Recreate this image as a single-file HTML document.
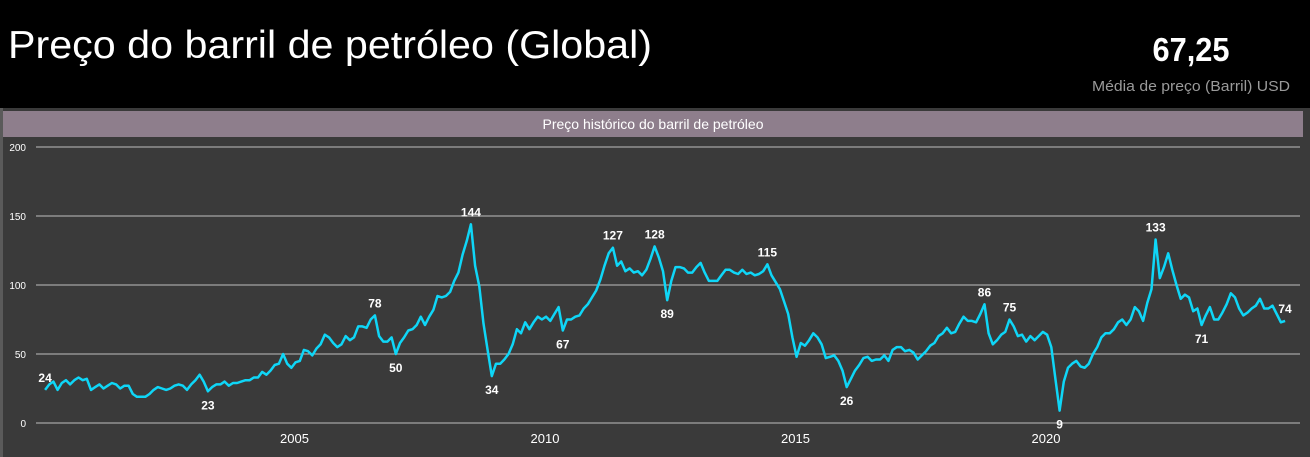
<!DOCTYPE html>
<html><head><meta charset="utf-8"><style>
html,body{margin:0;padding:0;background:#000;}
svg{display:block;font-family:"Liberation Sans","DejaVu Sans",sans-serif;}
</style></head><body>
<svg id="c" width="1310" height="457" viewBox="0 0 1310 457" xmlns="http://www.w3.org/2000/svg">
<rect x="0" y="0" width="1310" height="457" fill="#000"/>
<text x="8" y="58" font-size="39" fill="#fff" textLength="644" lengthAdjust="spacingAndGlyphs">Preço do barril de petróleo (Global)</text>
<text x="1191" y="61" font-size="33" font-weight="bold" fill="#fff" text-anchor="middle" textLength="77" lengthAdjust="spacingAndGlyphs">67,25</text>
<text x="1290" y="91" font-size="15" fill="#9a9a9a" text-anchor="end" textLength="198" lengthAdjust="spacingAndGlyphs">Média de preço (Barril) USD</text>
<rect x="0" y="108" width="1310" height="349" fill="#3a3a3a"/>
<rect x="0" y="108" width="3" height="349" fill="#5a5a5a"/>
<rect x="3" y="111" width="1300" height="26" fill="#8e7e8c"/>
<text x="653" y="129" font-size="14" fill="#fff" text-anchor="middle">Preço histórico do barril de petróleo</text>
<g id="grid"></g><g id="xl"></g>
<path id="line" fill="none" stroke="#0fd6f7" stroke-width="2.5" stroke-linejoin="round"/>
<g id="lab"></g>
</svg>
<script>
const yTicks=[0,50,100,150,200];
const xTicks=[2005,2010,2015,2020];
const startYear=2000;
const prices=[
24,28,30,24,29,31,28,31,33,31,32,24,
26,28,25,27,29,28,25,27,27,21,19,19,
19,21,24,26,25,24,25,27,28,27,24,28,
31,35,30,23,26,28,28,30,27,29,29,30,
31,31,33,33,37,35,38,42,43,50,43,40,
44,45,53,52,49,54,57,64,62,58,55,57,
63,60,62,70,70,69,75,78,63,59,59,62,
50,58,62,67,68,71,77,71,77,82,92,91,
92,95,103,109,122,132,144,114,99,72,53,34,
43,43,46,50,57,68,65,73,68,73,77,75,
77,74,79,84,67,75,75,77,78,83,86,91,
96,104,114,123,127,114,117,110,112,109,110,107,
111,119,128,120,110,89,103,113,113,112,109,109,
113,116,109,103,103,103,107,111,111,109,108,111,
108,109,107,108,110,115,107,102,97,88,79,62,
48,58,56,60,65,62,57,47,48,49,45,38,
26,32,38,42,47,48,45,46,46,49,45,53,
55,55,52,53,51,46,49,52,56,58,63,65,
69,65,66,72,77,74,74,73,79,86,65,57,
60,64,66,75,70,63,64,59,63,60,63,66,
64,55,32,9,30,40,43,45,41,40,43,50,
55,62,65,65,68,73,75,71,75,84,81,74,
87,97,133,105,113,123,111,100,90,93,91,81,
83,71,78,84,75,75,80,86,94,91,83,78,
80,83,85,90,83,83,85,79,73,74];
const labelIdx=[0,39,79,84,102,107,124,136,146,149,173,192,225,231,243,266,277,297];
const labelAbove=[1,0,1,0,1,0,0,1,1,0,1,0,1,1,0,1,0,1];
const NS="http://www.w3.org/2000/svg";
const xS=t=>43+(t-startYear)*50.1;
const xI=i=>xS(startYear+(i+0.5)/12);
const yS=v=>423-v*1.38;
const grid=document.getElementById('grid');
yTicks.forEach(v=>{
 const l=document.createElementNS(NS,'line');
 l.setAttribute('x1',36);l.setAttribute('x2',1300);l.setAttribute('y1',yS(v));l.setAttribute('y2',yS(v));
 l.setAttribute('stroke','#bdbdbd');l.setAttribute('stroke-width','1');
 
 
 grid.appendChild(l);
 const t=document.createElementNS(NS,'text');
 t.setAttribute('x',26);t.setAttribute('y',yS(v)+4);t.setAttribute('text-anchor','end');
 t.setAttribute('font-size','10');t.setAttribute('fill','#fff');t.textContent=v;
 
 
 grid.appendChild(t);
});
const xl=document.getElementById('xl');
xTicks.forEach(yr=>{
 const t=document.createElementNS(NS,'text');
 t.setAttribute('x',xS(yr)+1);t.setAttribute('y',443);t.setAttribute('text-anchor','middle');
 t.setAttribute('font-size','13');t.setAttribute('fill','#fff');t.textContent=yr;
 
 
 xl.appendChild(t);
});
document.getElementById('line').setAttribute('d',prices.map((v,i)=>(i?'L':'M')+xI(i).toFixed(1)+','+yS(v).toFixed(1)).join(''));
const lab=document.getElementById('lab');
labelIdx.forEach((i,k)=>{
 if(i>=prices.length)return;
 const t=document.createElementNS(NS,'text');
 t.setAttribute('x',xI(i));t.setAttribute('y',labelAbove[k]?yS(prices[i])-8:yS(prices[i])+18);
 t.setAttribute('text-anchor','middle');t.setAttribute('font-size','12');t.setAttribute('font-weight','bold');
 t.setAttribute('fill','#fff');t.textContent=prices[i];
 
 
 lab.appendChild(t);
});
</script>
</body></html>
